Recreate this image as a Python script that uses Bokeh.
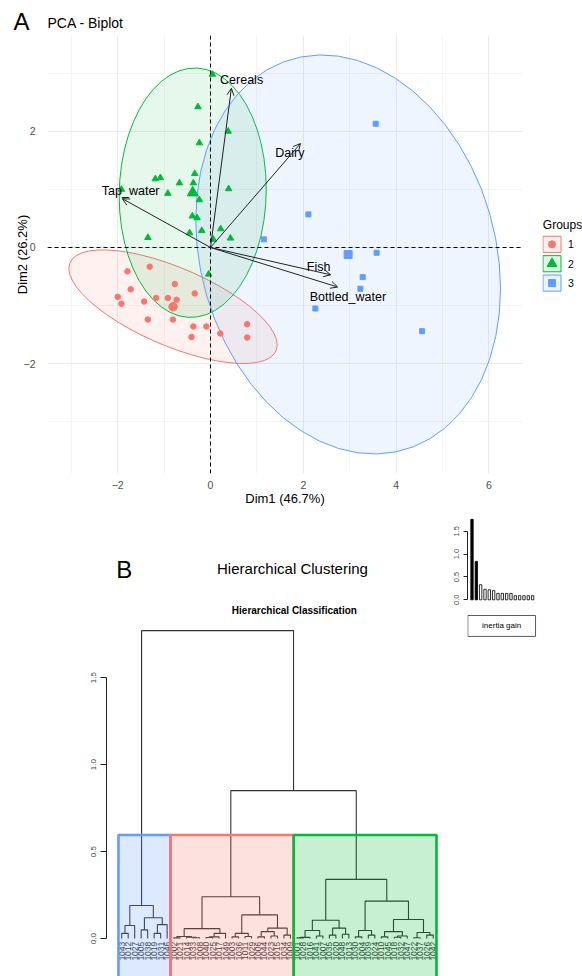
import numpy as np
from bokeh.plotting import figure
from bokeh.models import (ColumnDataSource, Range1d, Span, Arrow, OpenHead,
                          SingleIntervalTicker, FixedTicker, PrintfTickFormatter, Spacer)
from bokeh.layouts import column, row
from bokeh.embed import file_html
from bokeh.resources import INLINE
from bokeh.core.properties import value

FONT = "Liberation Sans"
RED, GREEN, BLUE = "#F8766D", "#00BA38", "#619CFF"

# ---------------- Panel A data (PCA biplot) ----------------
g1_x = [-1.31, -1.79, -0.77, -1.72, -0.34, -2.00, -1.17, -0.92, -0.73, -1.92,
        -1.43, -1.35, -0.81, -0.37, -0.09, -0.41, 0.21, 0.79, 0.79]
g1_y = [-0.33, -0.41, -0.63, -0.72, -0.79, -0.85, -0.87, -0.87, -0.90, -0.97,
        -0.93, -1.24, -1.24, -1.36, -1.36, -1.54, -1.48, -1.32, -1.55]
g2_x = [0.04, -0.27, 0.38, -0.24, -0.34, -1.19, -1.08, -0.67, -0.37, 0.39, -0.92,
        -0.24, -0.39, -0.29, -1.35, -0.45, -0.19, 0.22, 0.43, 0.06, -0.04, -1.92]
g2_y = [2.98, 2.42, 2.00, 1.80, 1.27, 1.18, 1.20, 1.11, 1.11, 1.01, 0.93,
        0.82, 0.54, 0.51, 0.17, 0.25, 0.29, 0.32, 0.16, 0.14, -0.46, 1.00]
g3_x = [3.56, 2.11, 1.15, 3.58, 3.28, 3.23, 2.26, 4.56]
g3_y = [2.13, 0.57, 0.14, -0.09, -0.51, -0.71, -1.05, -1.44]
group_names = ["1", "2", "3"]

var_names = ["Cereals", "Dairy", "Tap_water", "Fish", "Bottled_water"]
var_x = [0.45, 1.94, -1.90, 2.59, 2.74]
var_y = [2.74, 1.79, 0.84, -0.47, -0.68]
var_label_x = [0.67, 1.71, -1.72, 2.33, 2.96]
var_label_y = [2.88, 1.63, 0.98, -0.34, -0.86]

# ---------------- Panel B data (hierarchical clustering) ----------------
# nested merges: (left, right, height); ints are leaf positions 1..49
blue_tree = (((1, 2, 0.03), 3, 0.075),
             ((4, 5, 0.05), ((6, 7, 0.03), 8, 0.08), 0.12), 0.19)
red_tree = ((((9, 10, 0.004), (11, (12, 13, 0.005), 0.008), 0.012),
             (((14, 15, 0.006), 16, 0.01), 17, 0.03), 0.057),
            (((18, 19, 0.01), (20, 21, 0.012), 0.03),
             (((22, 23, 0.01), (24, 25, 0.015), 0.04), (26, 27, 0.02), 0.06), 0.136),
            0.24)
green_tree = (((((28, 29, 0.004), 30, 0.007), (31, 32, 0.015), 0.046),
               ((33, 34, 0.02), (35, 36, 0.025), 0.06), 0.105),
              (((37, 38, 0.01), (39, 40, 0.02), 0.046),
               (((41, 42, 0.01), ((43, 44, 0.008), 45, 0.015), 0.04),
                ((46, 47, 0.005), (48, 49, 0.02), 0.035), 0.11), 0.215),
              0.34)
root_heights = [0.85, 1.77]   # red+green merge, final merge
cluster_first = [1, 9, 28]
cluster_last = [8, 27, 49]
cluster_colors = [BLUE, RED, GREEN]

leaf_labels = ["1043", "1012", "1027", "1005", "1038", "1019", "1031", "1046",
               "1002", "1021", "1014", "1033", "1008", "1040", "1025", "1017", "1049",
               "1003", "1036", "1011", "1029", "1006", "1044", "1023", "1015", "1034", "1009",
               "1001", "1028", "1016", "1041", "1007", "1035", "1020", "1048", "1013", "1030",
               "1004", "1039", "1024", "1010", "1045", "1018", "1032", "1047", "1022", "1037",
               "1026", "1042"]

inertia_gain = [1.76, 0.84, 0.33, 0.23, 0.22, 0.20, 0.14, 0.14, 0.14, 0.14,
                0.09, 0.09, 0.09, 0.09, 0.09]
n_clusters = 3


def blank_fig(w, h):
    p = figure(width=w, height=h, x_range=Range1d(0, w), y_range=Range1d(0, h), title=None,
               output_backend="svg", toolbar_location=None,
               x_axis_location=None, y_axis_location=None, min_border=0,
               min_border_left=0, min_border_right=0, min_border_top=0, min_border_bottom=0)
    p.grid.visible = False
    p.outline_line_color = None
    p.background_fill_color = "white"
    p.border_fill_color = "white"
    return p


def norm_ellipse(xs, ys, level=0.95, segments=51):
    xs = np.asarray(xs, float)
    ys = np.asarray(ys, float)
    n = len(xs)
    cov = np.cov(np.vstack([xs, ys]))
    upper = np.linalg.cholesky(cov).T
    d = n - 1
    fq = (d / 2.0) * ((1 - level) ** (-2.0 / d) - 1)   # F(2, d) quantile
    radius = np.sqrt(2 * fq)
    t = np.linspace(0, 2 * np.pi, segments)
    unit = np.column_stack([np.cos(t), np.sin(t)])
    pts = unit @ upper
    return xs.mean() + radius * pts[:, 0], ys.mean() + radius * pts[:, 1]


# ---------------- Header A ----------------
hA = blank_fig(582, 35)
hA.text(x=[13], y=[0.5], text=["A"], text_font=value(FONT), text_font_size="24px",
        text_align="left", text_baseline="bottom", text_color="black")
hA.text(x=[47], y=[12.5], text=["PCA - Biplot"], text_font=value(FONT), text_font_size="14px",
        text_align="left", text_baseline="middle", text_color="black")

# ---------------- Panel A ----------------
pA = figure(width=542, height=475, x_range=Range1d(-3.513, 6.724), y_range=Range1d(-3.890, 3.649),
            title=None, output_backend="svg", toolbar_location=None,
            min_border_left=47, min_border_right=20, min_border_top=0, min_border_bottom=37)
pA.outline_line_color = None
pA.background_fill_color = "white"
for ax, lab in ((pA.xaxis[0], "Dim1 (46.7%)"), (pA.yaxis[0], "Dim2 (26.2%)")):
    ax.ticker = SingleIntervalTicker(interval=2, num_minor_ticks=2)
    ax.axis_line_color = None
    ax.major_tick_line_color = None
    ax.minor_tick_line_color = None
    ax.major_label_text_font = FONT
    ax.major_label_text_font_size = "10.5px"
    ax.major_label_text_color = "#4D4D4D"
    ax.axis_label = lab
    ax.axis_label_text_font = FONT
    ax.axis_label_text_font_size = "13px"
    ax.axis_label_text_font_style = "normal"
    ax.axis_label_text_color = "black"
pA.xaxis[0].major_label_standoff = 1
pA.xaxis[0].axis_label_standoff = -1
pA.yaxis[0].major_label_standoff = 6
pA.yaxis[0].axis_label_standoff = -9
for g in (pA.xgrid[0], pA.ygrid[0]):
    g.grid_line_color = "#EBEBEB"
    g.grid_line_width = 1.1
    g.minor_grid_line_color = "#EFEFEF"
    g.minor_grid_line_width = 0.7

groups = [(g1_x, g1_y, RED, "circle", 5.5, 8.5),
          (g2_x, g2_y, GREEN, "triangle", 6.5, 11),
          (g3_x, g3_y, BLUE, "square", 5, 8)]
for gx, gy, col, mk, sz, msz in groups:
    ex, ey = norm_ellipse(gx, gy)
    pA.patch(ex, ey, fill_color=col, fill_alpha=0.1, line_color=col, line_width=1)
for gx, gy, col, mk, sz, msz in groups:
    pA.scatter(gx, gy, marker=mk, size=sz, fill_color=col, line_color=col)
    pA.scatter([float(np.mean(gx))], [float(np.mean(gy))], marker=mk, size=msz,
               fill_color=col, line_color=col)

pA.add_layout(Span(location=0, dimension="height", line_color="black", line_dash="4 3", line_width=1))
pA.add_layout(Span(location=0, dimension="width", line_color="black", line_dash="4 3", line_width=1))

arrow_src = ColumnDataSource(dict(x1=var_x, y1=var_y))
pA.add_layout(Arrow(end=OpenHead(size=7, line_color="#222222", line_width=1),
                    x_start=0, y_start=0, x_end="x1", y_end="y1", source=arrow_src,
                    line_color="#222222", line_width=1))
pA.text(x=var_label_x, y=var_label_y, text=var_names, text_font=value(FONT),
        text_font_size="12.5px", text_align="center", text_baseline="middle", text_color="black")

# legend (outside the panel)
pL = blank_fig(40, 475)
leg_y = [248.5, 227.5, 206.5]
pL.text(x=[0.3], y=[270], text=["Groups"], text_font=value(FONT), text_font_size="12px",
        text_align="left", text_baseline="middle", text_color="black")
pL.rect(x=[9.5, 9.5, 9.5], y=leg_y, width=18, height=17.5, fill_color=[RED, GREEN, BLUE],
        fill_alpha=0.12, line_color=[RED, GREEN, BLUE], line_width=1)
pL.scatter(x=[9.5, 9.5, 9.5], y=leg_y, marker=["circle", "triangle", "square"], size=[7, 10, 7],
           fill_color=[RED, GREEN, BLUE], line_color=[RED, GREEN, BLUE])
pL.text(x=[25.5, 25.5, 25.5], y=leg_y, text=group_names, text_font=value(FONT),
        text_font_size="10.5px", text_align="left", text_baseline="middle", text_color="black")

# ---------------- Header B ----------------
hB = blank_fig(440, 110)
hB.text(x=[13], y=[51.5], text=["B"], text_font=value(FONT), text_font_size="24px",
        text_align="left", text_baseline="middle", text_color="black")
hB.text(x=[245], y=[51.6], text=["Hierarchical Clustering"], text_font=value(FONT),
        text_font_size="15px", text_align="center", text_baseline="middle", text_color="black")
hB.text(x=[247.5], y=[10], text=["Hierarchical Classification"], text_font=value(FONT),
        text_font_size="10px", text_font_style="bold", text_align="center",
        text_baseline="middle", text_color="black")

# ---------------- Dendrogram ----------------
pD = figure(width=440, height=356, x_range=Range1d(-1.342, 50.12), y_range=Range1d(-0.218, 1.828),
            title=None, output_backend="svg", toolbar_location=None, x_axis_location=None,
            min_border_left=106, min_border_right=0, min_border_top=0, min_border_bottom=0)
pD.outline_line_color = None
pD.grid.visible = False
yax = pD.yaxis[0]
yax.ticker = FixedTicker(ticks=[0, 0.5, 1.0, 1.5])
yax.formatter = PrintfTickFormatter(format="%.1f")
yax.bounds = (0, 1.5)
yax.major_tick_out = 6
yax.major_tick_in = 0
yax.minor_tick_line_color = None
yax.major_label_orientation = "vertical"
yax.major_label_text_font = FONT
yax.major_label_text_font_size = "8px"
yax.major_label_standoff = 4
yax.axis_line_color = "#222222"
yax.major_tick_line_color = "#222222"

segs_x, segs_y = [], []


def layout_tree(node):
    if isinstance(node, int):
        return float(node), 0.0
    left, right, h = node
    xl, hl = layout_tree(left)
    xr, hr = layout_tree(right)
    segs_x.append([xl, xl, xr, xr])
    segs_y.append([hl, h, h, hr])
    return (xl + xr) / 2.0, h


root = (blue_tree, (red_tree, green_tree, root_heights[0]), root_heights[1])
layout_tree(root)
pD.multi_line(xs=segs_x, ys=segs_y, line_color="#333333", line_width=1.1)

leaf_pos = list(range(1, len(leaf_labels) + 1))
pD.text(x=leaf_pos, y=[-0.018] * len(leaf_pos), text=leaf_labels, angle=np.pi / 2,
        text_font=value(FONT), text_font_size="8.5px", text_align="right",
        text_baseline="middle", text_color="#333333")

all_heights = sorted([s[1] for s in segs_y], reverse=True)
rect_top = (all_heights[n_clusters - 2] + all_heights[n_clusters - 1]) / 2.0
pD.quad(left=[f - 0.5 for f in cluster_first], right=[l + 0.5 for l in cluster_last],
        bottom=[-0.4] * 3, top=[rect_top] * 3, fill_color=cluster_colors, fill_alpha=0.22,
        line_color=cluster_colors, line_width=2.6)

# ---------------- Inertia gain barplot ----------------
pI = figure(width=142, height=130, x_range=Range1d(-0.04, 16.82), y_range=Range1d(-0.89, 1.822),
            title=None, output_backend="svg", toolbar_location=None, x_axis_location=None,
            min_border_left=27, min_border_right=42, min_border_top=6, min_border_bottom=0)
pI.outline_line_color = None
pI.grid.visible = False
iax = pI.yaxis[0]
iax.ticker = FixedTicker(ticks=[0, 0.5, 1.0, 1.5])
iax.formatter = PrintfTickFormatter(format="%.1f")
iax.bounds = (0, 1.5)
iax.major_tick_out = 4
iax.major_tick_in = 0
iax.minor_tick_line_color = None
iax.major_label_orientation = "vertical"
iax.major_label_text_font = FONT
iax.major_label_text_font_size = "7.5px"
iax.major_label_standoff = 4
iax.axis_line_color = "#222222"
iax.major_tick_line_color = "#222222"

bar_pos = list(range(1, len(inertia_gain) + 1))
bar_fill = ["black" if i < n_clusters - 1 else "white" for i in range(len(inertia_gain))]
pI.vbar(x=bar_pos, top=inertia_gain, bottom=0, width=0.55, fill_color=bar_fill,
        line_color="black", line_width=0.8)
pI.rect(x=[7.85], y=[-0.572], width=15.64, height=0.457, fill_color="white",
        line_color="#333333", line_width=0.8)
pI.text(x=[7.85], y=[-0.572], text=["inertia gain"], text_font=value(FONT), text_font_size="8px",
        text_align="center", text_baseline="middle", text_color="black")

layout = column(
    hA,
    row(pA, pL),
    row(column(hB, pD), column(pI, Spacer(width=142, height=336))),
)

open("out.html", "w").write(file_html(layout, INLINE))
